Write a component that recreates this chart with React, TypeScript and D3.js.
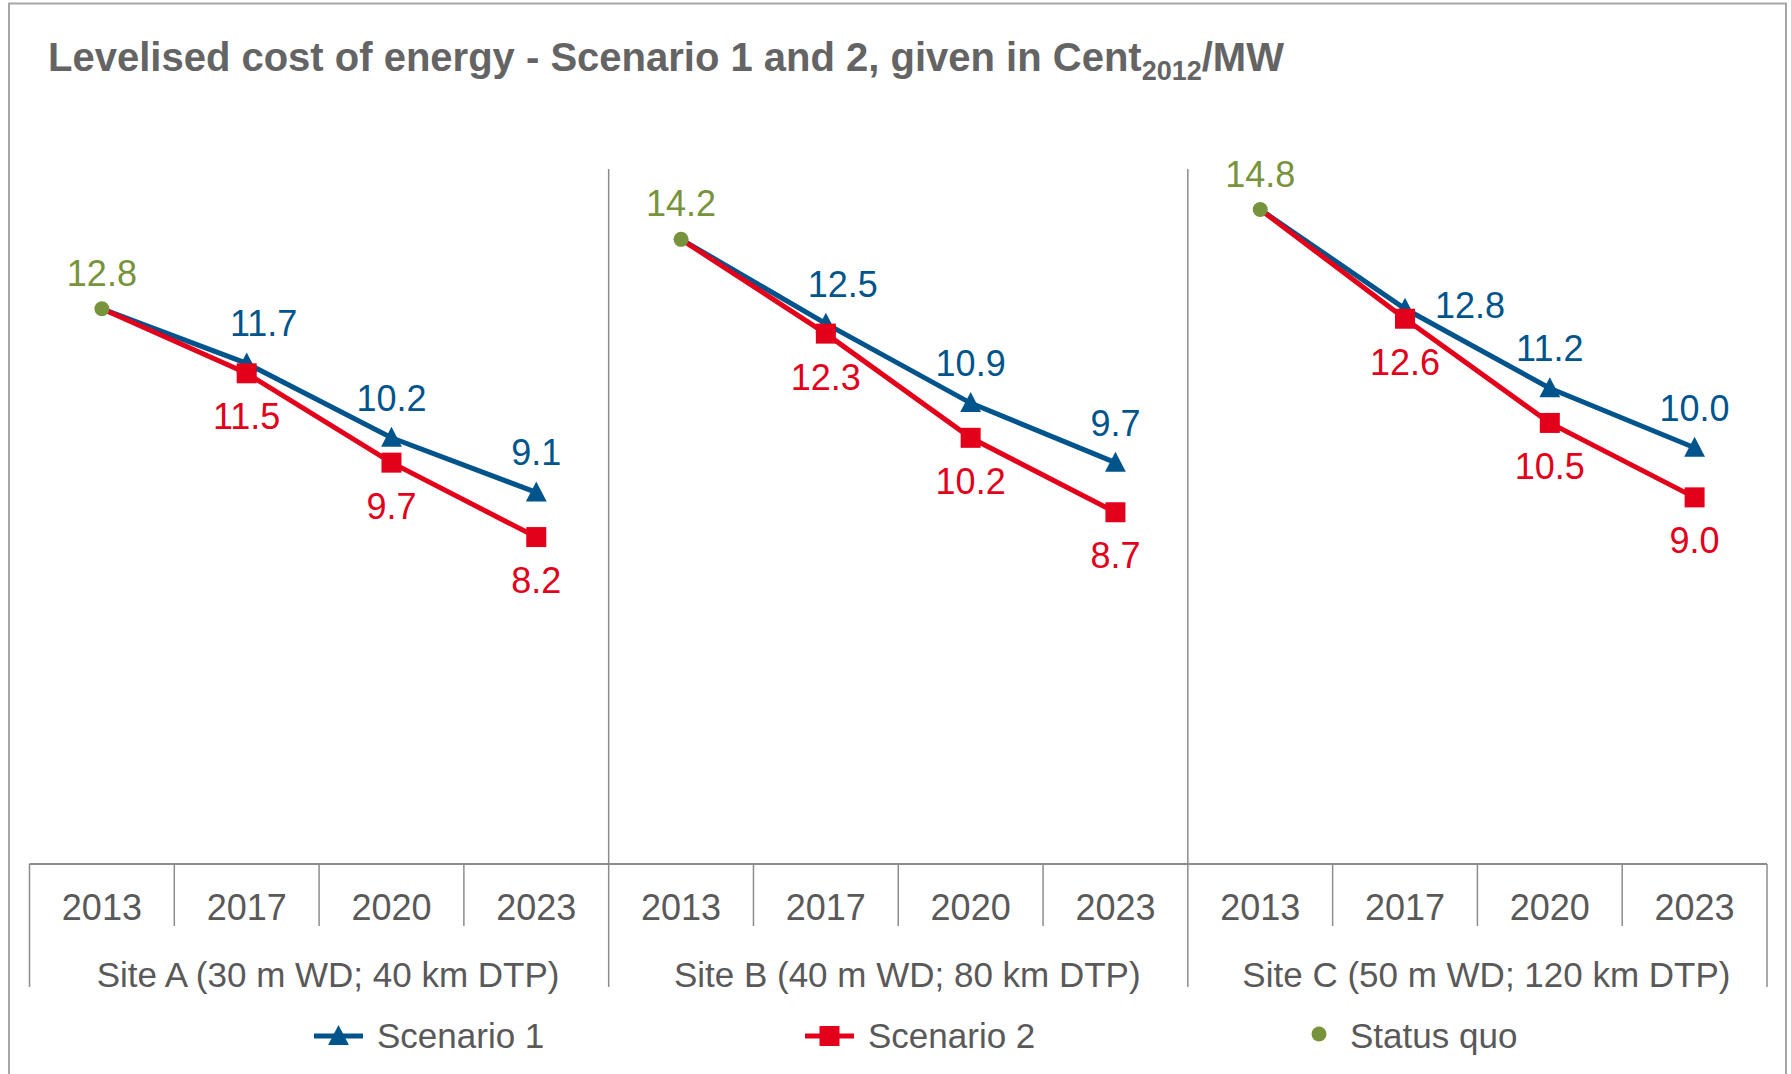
import React from "react";
import * as d3 from "d3";

const siteLabels = [
  "Site A (30 m WD; 40 km DTP)",
  "Site B (40 m WD; 80 km DTP)",
  "Site C (50 m WD; 120 km DTP)",
];
const years = ["2013", "2017", "2020", "2023"];
const statusQuo = [12.8, 14.2, 14.8];
const scenario1 = [
  [11.7, 10.2, 9.1],
  [12.5, 10.9, 9.7],
  [12.8, 11.2, 10.0],
];
const scenario2 = [
  [11.5, 9.7, 8.2],
  [12.3, 10.2, 8.7],
  [12.6, 10.5, 9.0],
];
// label placement for scenario 1 values (per site, per year after 2013)
const s1Placement = [
  ["aboveRight", "above", "above"],
  ["aboveRight", "above", "above"],
  ["right", "above", "above"],
];
const legendItems = ["Scenario 1", "Scenario 2", "Status quo"];

const W = 1791;
const H = 1074;
const BLUE = "#00548C";
const RED = "#E2001A";
const GREEN = "#77933C";
const TEXT = "#595959";
const AXIS = "#8C8C8C";
const FONT = "'Liberation Sans', Arial, sans-serif";

export default function App() {
  const keys = siteLabels.flatMap((_, s) => years.map((y) => `${s}-${y}`));
  const x = d3.scaleBand<string>().domain(keys).range([29.5, 1767]).padding(0);
  const y = d3.scaleLinear().domain([0, 16]).range([944, 150]);
  const fmt = d3.format(".1f");
  const axisY = 864;
  const cx = (s: number, i: number) => (x(`${s}-${years[i]}`) as number) + x.bandwidth() / 2;
  const line = d3
    .line<[number, number]>()
    .x((d) => d[0])
    .y((d) => d[1]);

  const groupEdges = siteLabels.map((_, s) => x(`${s}-${years[0]}`) as number);
  const rightEdge = x.range()[1];
  const groupW = x.bandwidth() * years.length;

  const tri = (px: number, py: number, size: number) =>
    `M${px},${py - size * 0.55} L${px + size * 0.52},${py + size * 0.45} L${px - size * 0.52},${py + size * 0.45} Z`;

  return (
    <svg
      width={W}
      height={H}
      style={{ position: "absolute", left: 0, top: 0, background: "#fff" }}
      fontFamily={FONT}
    >
      <rect x={9} y={3.5} width={1777} height={H + 10} fill="none" stroke="#A6A6A6" strokeWidth={2} />
      <text x={48} y={71} fontSize={40} fontWeight="bold" fill="#646464">
        Levelised cost of energy - Scenario 1 and 2, given in Cent
        <tspan fontSize={27} dy={9}>2012</tspan>
        <tspan dy={-9}>/MW</tspan>
      </text>

      {/* dividers in plot area */}
      {groupEdges.slice(1).map((gx, i) => (
        <line key={`div${i}`} x1={gx} x2={gx} y1={169} y2={axisY} stroke={AXIS} strokeWidth={1.5} />
      ))}
      {/* axis line */}
      <line x1={x.range()[0]} x2={rightEdge} y1={axisY} y2={axisY} stroke={AXIS} strokeWidth={2} />
      {/* group boundaries */}
      {[...groupEdges, rightEdge].map((gx, i) => (
        <line key={`gb${i}`} x1={gx} x2={gx} y1={axisY} y2={987} stroke={AXIS} strokeWidth={1.5} />
      ))}
      {/* year separators */}
      {siteLabels.map((_, s) =>
        years.slice(1).map((yr) => {
          const tx = x(`${s}-${yr}`) as number;
          return <line key={`ts${s}${yr}`} x1={tx} x2={tx} y1={axisY} y2={926} stroke={AXIS} strokeWidth={1.5} />;
        })
      )}
      {/* year labels */}
      {siteLabels.map((_, s) =>
        years.map((yr, i) => (
          <text key={`yl${s}${yr}`} x={cx(s, i)} y={920} fontSize={36} textAnchor="middle" fill={TEXT}>
            {yr}
          </text>
        ))
      )}
      {/* site labels */}
      {siteLabels.map((lab, s) => (
        <text key={`sl${s}`} x={groupEdges[s] + groupW / 2 + 9} y={987} fontSize={35} textAnchor="middle" fill={TEXT}>
          {lab}
        </text>
      ))}

      {/* series */}
      {siteLabels.map((_, s) => {
        const p1: [number, number][] = [[cx(s, 0), y(statusQuo[s])], ...scenario1[s].map((v, i) => [cx(s, i + 1), y(v)] as [number, number])];
        const p2: [number, number][] = [[cx(s, 0), y(statusQuo[s])], ...scenario2[s].map((v, i) => [cx(s, i + 1), y(v)] as [number, number])];
        return (
          <g key={`ser${s}`}>
            <path d={line(p1) as string} fill="none" stroke={BLUE} strokeWidth={5} />
            {p1.slice(1).map((p, i) => (
              <path key={`t${i}`} d={tri(p[0], p[1], 20)} fill={BLUE} />
            ))}
            <path d={line(p2) as string} fill="none" stroke={RED} strokeWidth={5} />
            {p2.slice(1).map((p, i) => (
              <rect key={`q${i}`} x={p[0] - 10} y={p[1] - 10} width={20} height={20} fill={RED} />
            ))}
            <circle cx={cx(s, 0)} cy={y(statusQuo[s])} r={7.5} fill={GREEN} />
            <text x={cx(s, 0)} y={y(statusQuo[s]) - 23} fontSize={36} textAnchor="middle" fill={GREEN}>
              {fmt(statusQuo[s])}
            </text>
            {scenario1[s].map((v, i) => {
              const px = cx(s, i + 1);
              const py = y(v);
              const place = s1Placement[s][i];
              const right = place === "right";
              const dx = place === "aboveRight" ? 17 : 0;
              return (
                <text
                  key={`l1${i}`}
                  x={right ? px + 30 : px + dx}
                  y={right ? py + 9 : py - 27}
                  fontSize={36}
                  textAnchor={right ? "start" : "middle"}
                  fill={BLUE}
                >
                  {fmt(v)}
                </text>
              );
            })}
            {scenario2[s].map((v, i) => (
              <text key={`l2${i}`} x={cx(s, i + 1)} y={y(v) + 56} fontSize={36} textAnchor="middle" fill={RED}>
                {fmt(v)}
              </text>
            ))}
          </g>
        );
      })}

      {/* legend */}
      <g>
        <line x1={314} x2={363} y1={1036} y2={1036} stroke={BLUE} strokeWidth={5} />
        <path d={tri(338.5, 1036, 20)} fill={BLUE} />
        <text x={377} y={1048} fontSize={35} fill={TEXT}>{legendItems[0]}</text>
        <line x1={805} x2={854} y1={1036} y2={1036} stroke={RED} strokeWidth={5} />
        <rect x={819.5} y={1026} width={20} height={20} fill={RED} />
        <text x={868} y={1048} fontSize={35} fill={TEXT}>{legendItems[1]}</text>
        <circle cx={1319} cy={1034} r={7.5} fill={GREEN} />
        <text x={1350} y={1048} fontSize={35} fill={TEXT}>{legendItems[2]}</text>
      </g>
    </svg>
  );
}
